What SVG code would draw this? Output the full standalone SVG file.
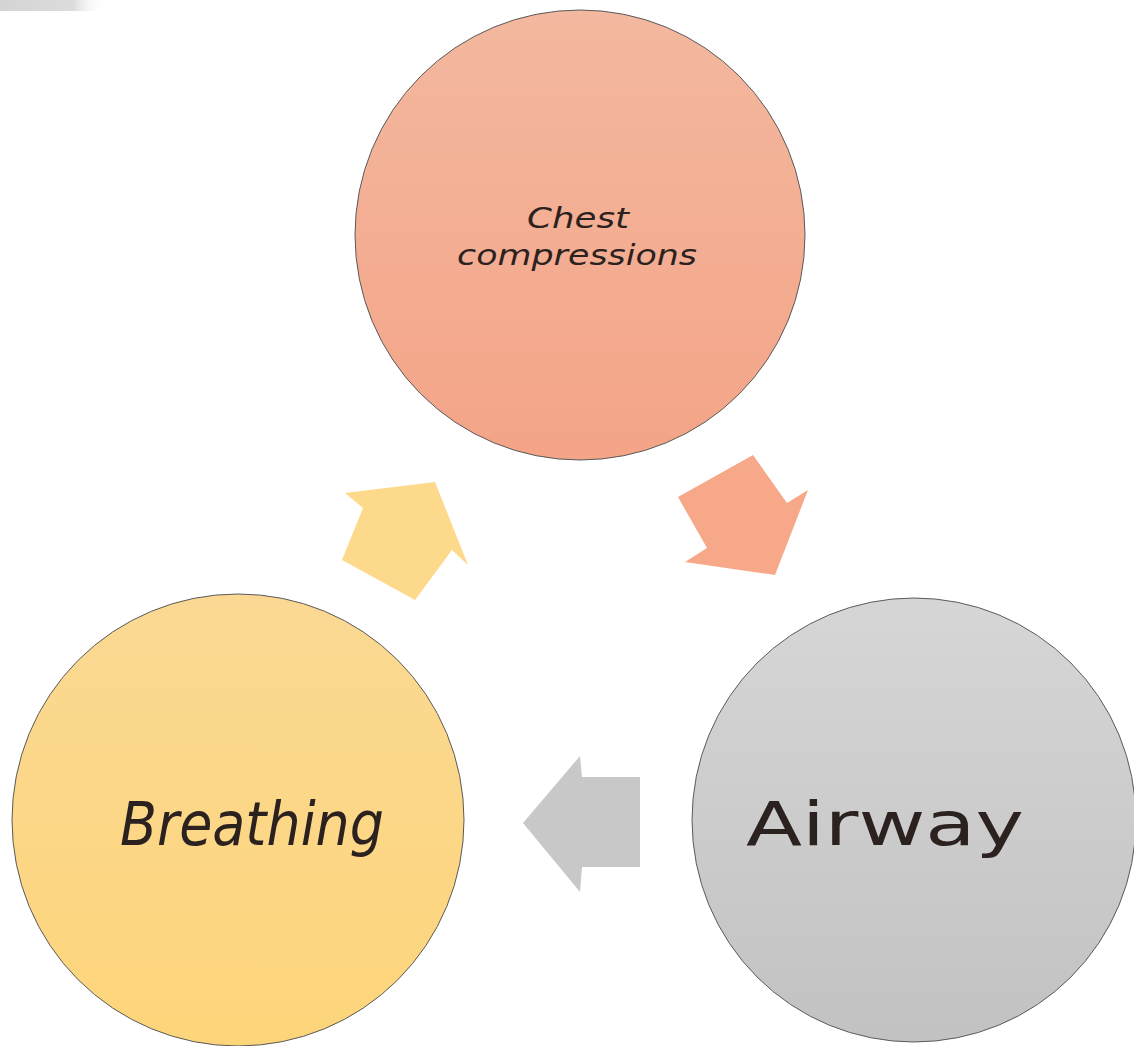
<svg xmlns="http://www.w3.org/2000/svg" width="1134" height="1046" viewBox="0 0 1134 1046">
<defs>
<linearGradient id="gTop" x1="0" y1="0" x2="0" y2="1"><stop offset="0" stop-color="#f3b89f"/><stop offset="1" stop-color="#f4a487"/></linearGradient>
<linearGradient id="gLeft" x1="0" y1="0" x2="0" y2="1"><stop offset="0" stop-color="#fbd994"/><stop offset="1" stop-color="#fdd57a"/></linearGradient>
<linearGradient id="gRight" x1="0" y1="0" x2="0" y2="1"><stop offset="0" stop-color="#d6d6d6"/><stop offset="1" stop-color="#c2c2c2"/></linearGradient>
<linearGradient id="gBar" x1="0" y1="0" x2="1" y2="0"><stop offset="0" stop-color="#d4d4d4"/><stop offset="0.7" stop-color="#dcdcdc"/><stop offset="1" stop-color="#ffffff" stop-opacity="0"/></linearGradient>
<style>
.node circle{stroke:#5a5a5a;stroke-width:1}
.lbl{font-family:"DejaVu Sans","Liberation Sans",sans-serif;fill:#2b2220;text-anchor:middle}
</style>
</defs>
<rect width="1134" height="1046" fill="#ffffff"/>
<rect x="0" y="0" width="105" height="11" fill="url(#gBar)"/>
<g id="connectors">
<polygon id="arrow-breathing-chest" points="435,482 468,565 452,550 415,600 342,560 363,508 345,493" fill="#fdd98c"/>
<polygon id="arrow-chest-airway" points="753,455 787,503 808,490 775,575 685,562 707,548 678,497" fill="#f7a888"/>
<polygon id="arrow-airway-breathing" points="523,823 580,756 582,777 640,777 640,867 582,867 580,892" fill="#c8c8c8"/>
</g>
<g id="node-chest" class="node">
<circle cx="580" cy="235" r="225" fill="url(#gTop)"/>
<text class="lbl" x="578" y="228" font-size="28" font-style="italic" textLength="102" lengthAdjust="spacingAndGlyphs">Chest</text>
<text class="lbl" x="577" y="265" font-size="28" font-style="italic" textLength="240" lengthAdjust="spacingAndGlyphs">compressions</text>
</g>
<g id="node-breathing" class="node">
<circle cx="238" cy="820" r="226" fill="url(#gLeft)"/>
<text class="lbl" x="252" y="845" font-size="60" font-style="italic" textLength="264" lengthAdjust="spacingAndGlyphs">Breathing</text>
</g>
<g id="node-airway" class="node">
<circle cx="914" cy="820" r="222" fill="url(#gRight)"/>
<text class="lbl" x="885" y="845" font-size="60" textLength="278" lengthAdjust="spacingAndGlyphs">Airway</text>
</g>
</svg>
